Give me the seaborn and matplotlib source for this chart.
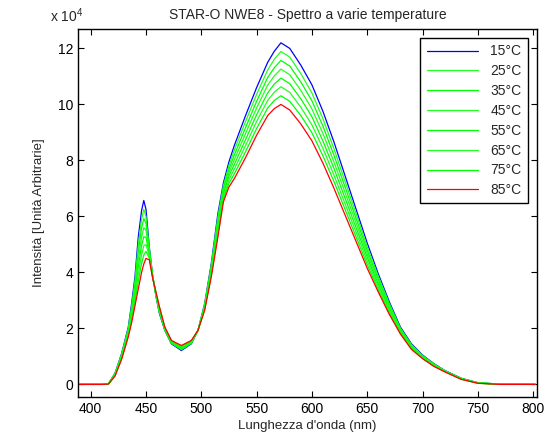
import pandas as pd
import seaborn as sns
import matplotlib.pyplot as plt

# wavelength grid (nm) and intensities (x 1e4, arbitrary units)
wl = [388, 400, 410, 416, 422, 428, 434, 437, 440, 443, 446, 448, 450, 453, 456, 459,
      462, 467, 473, 482, 491, 497, 503, 509, 515, 520, 525, 530, 540, 550, 560, 566,
      572, 580, 590, 600, 610, 620, 630, 640, 650, 660, 670, 680, 690, 700, 710, 720,
      735, 750, 770, 802]

t15 = [0, 0, 0, 0.02, 0.40, 1.11, 2.05, 2.89, 3.83, 5.26, 6.21, 6.57, 6.25, 4.90, 3.90, 3.15,
       2.55, 1.93, 1.45, 1.21, 1.45, 1.93, 2.88, 4.31, 6.10, 7.20, 7.95, 8.55, 9.60, 10.60, 11.50, 11.90,
       12.20, 12.00, 11.40, 10.70, 9.75, 8.65, 7.45, 6.25, 5.05, 3.95, 2.95, 2.05, 1.45, 1.05, 0.75, 0.50,
       0.22, 0.06, 0.01, 0]
t25 = [0, 0, 0, 0.02, 0.39, 1.08, 2.00, 2.79, 3.68, 4.99, 5.89, 6.25, 6.00, 4.84, 3.89, 3.17,
       2.59, 1.95, 1.47, 1.24, 1.47, 1.93, 2.85, 4.24, 5.98, 7.10, 7.82, 8.38, 9.39, 10.36, 11.23, 11.61,
       11.89, 11.69, 11.10, 10.41, 9.49, 8.41, 7.25, 6.09, 4.92, 3.86, 2.89, 2.01, 1.42, 1.03, 0.74, 0.49,
       0.21, 0.06, 0.01, 0]
t35 = [0, 0, 0, 0.02, 0.37, 1.05, 1.95, 2.69, 3.54, 4.73, 5.58, 5.92, 5.75, 4.77, 3.87, 3.19,
       2.62, 1.96, 1.48, 1.26, 1.48, 1.93, 2.81, 4.17, 5.86, 7.00, 7.69, 8.21, 9.17, 10.11, 10.96, 11.31,
       11.57, 11.37, 10.80, 10.13, 9.22, 8.18, 7.05, 5.92, 4.79, 3.76, 2.82, 1.98, 1.39, 1.01, 0.72, 0.49,
       0.21, 0.05, 0.01, 0]
t45 = [0, 0, 0, 0.02, 0.36, 1.02, 1.90, 2.59, 3.39, 4.46, 5.26, 5.60, 5.50, 4.71, 3.86, 3.21,
       2.66, 1.98, 1.50, 1.29, 1.50, 1.93, 2.78, 4.10, 5.74, 6.90, 7.56, 8.04, 8.96, 9.87, 10.69, 11.02,
       11.26, 11.06, 10.50, 9.84, 8.96, 7.94, 6.85, 5.76, 4.66, 3.67, 2.76, 1.94, 1.36, 0.99, 0.71, 0.48,
       0.20, 0.05, 0.01, 0]
t55 = [0, 0, 0, 0.01, 0.34, 0.99, 1.85, 2.50, 3.24, 4.20, 4.95, 5.27, 5.25, 4.64, 3.84, 3.24,
       2.69, 2.00, 1.52, 1.31, 1.52, 1.93, 2.74, 4.04, 5.62, 6.81, 7.44, 7.87, 8.74, 9.63, 10.41, 10.73,
       10.94, 10.74, 10.20, 9.56, 8.69, 7.71, 6.65, 5.59, 4.54, 3.58, 2.69, 1.91, 1.34, 0.97, 0.69, 0.47,
       0.20, 0.05, 0, 0]
t65 = [0, 0, 0, 0.01, 0.33, 0.96, 1.80, 2.40, 3.09, 3.93, 4.63, 4.95, 5.00, 4.58, 3.83, 3.26,
       2.73, 2.02, 1.54, 1.34, 1.54, 1.93, 2.71, 3.97, 5.50, 6.71, 7.31, 7.70, 8.53, 9.39, 10.14, 10.44,
       10.63, 10.43, 9.90, 9.27, 8.43, 7.47, 6.45, 5.43, 4.41, 3.49, 2.63, 1.87, 1.31, 0.95, 0.68, 0.47,
       0.19, 0.05, 0, 0]
t75 = [0, 0, 0, 0.01, 0.31, 0.93, 1.75, 2.30, 2.95, 3.67, 4.32, 4.62, 4.75, 4.51, 3.81, 3.28,
       2.76, 2.03, 1.55, 1.36, 1.55, 1.93, 2.67, 3.90, 5.38, 6.62, 7.18, 7.53, 8.31, 9.14, 9.87, 10.14,
       10.31, 10.11, 9.60, 8.99, 8.16, 7.24, 6.25, 5.26, 4.28, 3.39, 2.56, 1.84, 1.28, 0.94, 0.66, 0.46,
       0.19, 0.04, 0, 0]
t85 = [0, 0, 0, 0.01, 0.30, 0.90, 1.70, 2.20, 2.80, 3.40, 4.00, 4.30, 4.50, 4.45, 3.80, 3.30,
       2.80, 2.05, 1.57, 1.39, 1.57, 1.93, 2.64, 3.83, 5.26, 6.52, 7.05, 7.36, 8.10, 8.90, 9.60, 9.85,
       10.00, 9.80, 9.30, 8.70, 7.90, 7.00, 6.05, 5.10, 4.15, 3.30, 2.50, 1.80, 1.25, 0.92, 0.65, 0.45,
       0.18, 0.04, 0, 0]

labels = ['15°C', '25°C', '35°C', '45°C', '55°C', '65°C', '75°C', '85°C']
series = [t15, t25, t35, t45, t55, t65, t75, t85]
colors = ['#0000ff', '#22ff22', '#00ff00', '#22ff22', '#00ff00', '#22ff22', '#00ff00', '#ff0000']

rows = []
for lab, vals in zip(labels, series):
    for x, y in zip(wl, vals):
        rows.append({'nm': x, 'I': y, 'T': lab})
df = pd.DataFrame(rows)

sns.set_style('ticks')
plt.rcParams['font.family'] = ['Liberation Sans', 'DejaVu Sans']
plt.rcParams['mathtext.fontset'] = 'custom'
plt.rcParams['mathtext.rm'] = 'Liberation Sans'

fig, ax = plt.subplots(figsize=(5.59, 4.41), dpi=100)
fig.subplots_adjust(left=0.1395, right=0.9606, bottom=0.0998, top=0.934)

sns.lineplot(data=df, x='nm', y='I', hue='T', hue_order=labels,
             palette=dict(zip(labels, colors)), linewidth=0.9, errorbar=None, ax=ax)

ax.set_xlim(388.5, 803.5)
ax.set_ylim(-0.45, 12.69)
ax.set_xticks(range(400, 801, 50))
ax.set_yticks(range(0, 13, 2))
ax.tick_params(direction='in', top=True, right=True, length=4, width=0.8,
               labelsize=10, colors='black')
for s in ax.spines.values():
    s.set_visible(True)
    s.set_color('black')
    s.set_linewidth(1.0)

ax.set_xlabel("Lunghezza d'onda (nm)", fontsize=9.5, labelpad=3)
ax.set_ylabel('Intensità [Unità Arbitrarie]', fontsize=9.5, labelpad=9)
ax.set_title('STAR-O NWE8 - Spettro a varie temperature', fontsize=10, pad=7)
ax.text(-0.062, 1.012, r'x 10$^{4}$', transform=ax.transAxes, fontsize=10,
        ha='left', va='bottom')

leg = ax.legend(loc='upper right', fontsize=10, frameon=True, fancybox=False,
                edgecolor='black', framealpha=1, handlelength=3.7,
                labelspacing=0.42, borderaxespad=0.65, handletextpad=0.9,
                borderpad=0.45)
leg.get_frame().set_linewidth(1.0)
leg.set_title(None)

plt.savefig('out.png', dpi=100)
